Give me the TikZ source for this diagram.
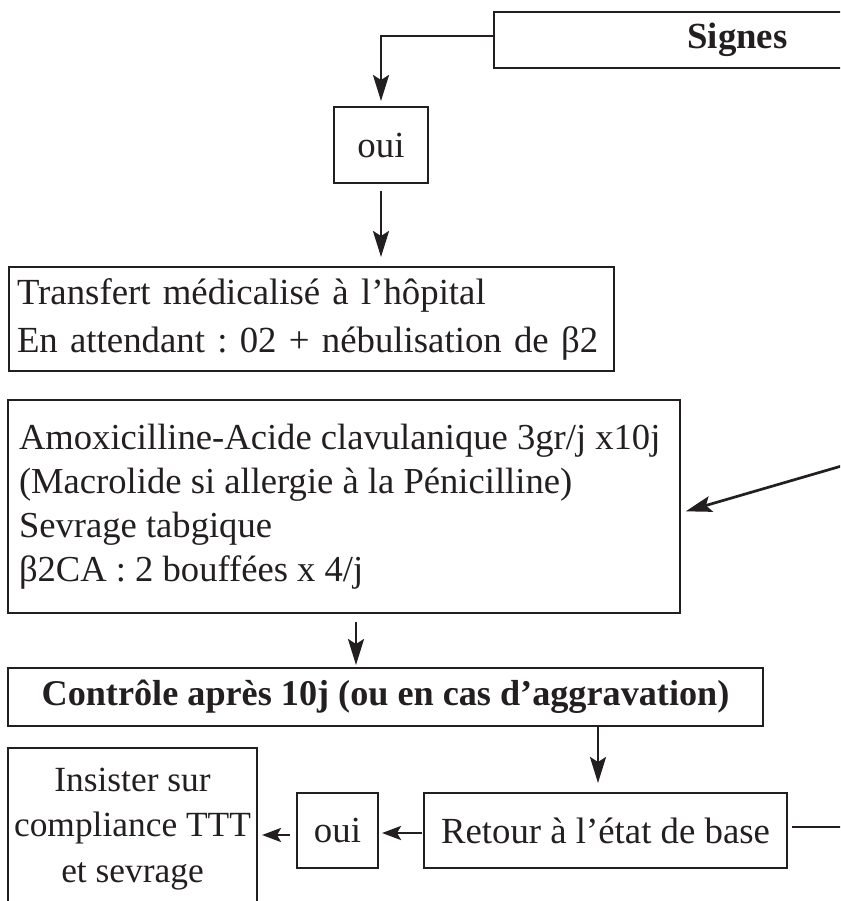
\documentclass[tikz,border=0pt]{standalone}
\usepackage{fontspec}
\setmainfont{Liberation Serif}
\usetikzlibrary{arrows.meta}
\definecolor{ink}{RGB}{35,31,32}
\newcommand{\bodyfont}{\frenchspacing\fontsize{36.8}{46}\selectfont}
\begin{document}
\begin{tikzpicture}[x=1pt,y=-1pt,
  every node/.style={font=\bodyfont, text=ink},
  box/.style={draw=ink, line width=2.7pt, rectangle, inner sep=0pt, outer sep=0pt},
  arr/.style={draw=ink, line width=2.7pt, -{Stealth[length=26pt,width=16pt,inset=5pt]}},
  sarr/.style={draw=ink, line width=2.7pt, -{Stealth[length=19pt,width=14pt,inset=4pt]}},
  link/.style={draw=ink, line width=2.7pt},
]
\useasboundingbox (0,0) rectangle (840,901);
\clip (0,0) rectangle (840,901);

% boxes
\node[box, minimum width=487pt, minimum height=56pt, font=\bodyfont\bfseries]
  (signes) at (737.5,40) {Signes};
\node[box, minimum width=94pt, minimum height=76pt] (oui1) at (381,145) {oui};
\node[box, minimum width=605pt, minimum height=104pt, text width=589pt, align=left,
  font=\frenchspacing\fontsize{36.8}{48}\selectfont]
  (transfert) at (311.5,319)
  {Transfert médicalisé à l’hôpital\\En attendant : 02 + nébulisation de β2};
\node[box, minimum width=672pt, minimum height=213pt, align=left,
  font=\frenchspacing\fontsize{36.6}{44}\selectfont]
  (amox) at (344,506.5)
  {\raisebox{-5pt}{\parbox{650pt}{\raggedright
   Amoxicilline-Acide clavulanique 3gr/j x10j\\
   (Macrolide si allergie à la Pénicilline)\\
   Sevrage tabgique\\
   β2CA : 2 bouffées x 4/j}}};
\node[box, minimum width=755pt, minimum height=58pt,
  font=\frenchspacing\fontsize{36.2}{44}\selectfont\bfseries]
  (controle) at (385.5,697) {Contrôle après 10j (ou en cas d’aggravation)};
\node[box, minimum width=249pt, minimum height=162pt, align=center,
  font=\frenchspacing\fontsize{35.4}{45.5}\selectfont]
  (insister) at (132.5,829) {Insister sur\\compliance TTT\\et sevrage};
\node[box, minimum width=81pt, minimum height=75pt] (oui2) at (337.5,830.5) {oui};
\node[box, minimum width=363pt, minimum height=75pt] (retour) at (605.5,830.5)
  {Retour à l’état de base};

% connectors
\draw[arr, shorten >=6pt] ([yshift=4pt]signes.west) -| (oui1.north);
\draw[arr, shorten <=8pt, shorten >=10pt] (oui1.south) -- (oui1.south |- transfert.north);

\coordinate (feedin) at (900,449);
\coordinate (amoxin) at ([yshift=-6.5pt]amox.east);
\draw[arr, shorten >=6pt] (feedin) -- (amoxin);

\coordinate (a2c) at ([xshift=12pt]amox.south);
\draw[arr, shorten <=9pt, shorten >=3pt] (a2c) -- (a2c |- controle.north);

\coordinate (c2r) at ([xshift=-7.5pt]retour.north);
\draw[arr, shorten >=10pt] (c2r |- controle.south) -- (c2r);

\coordinate (r2o) at ([yshift=-2.5pt]retour.west);
\draw[sarr, shorten <=2pt, shorten >=4pt] (r2o) -- (r2o -| oui2.east);

\coordinate (o2i) at ([yshift=-4.5pt]oui2.west);
\draw[sarr, shorten <=7pt, shorten >=5pt] (o2i) -- (o2i -| insister.east);

\coordinate (retout) at (900,827);
\draw[link, shorten <=5pt] ([yshift=3.5pt]retour.east) -- (retout);
\end{tikzpicture}
\end{document}
